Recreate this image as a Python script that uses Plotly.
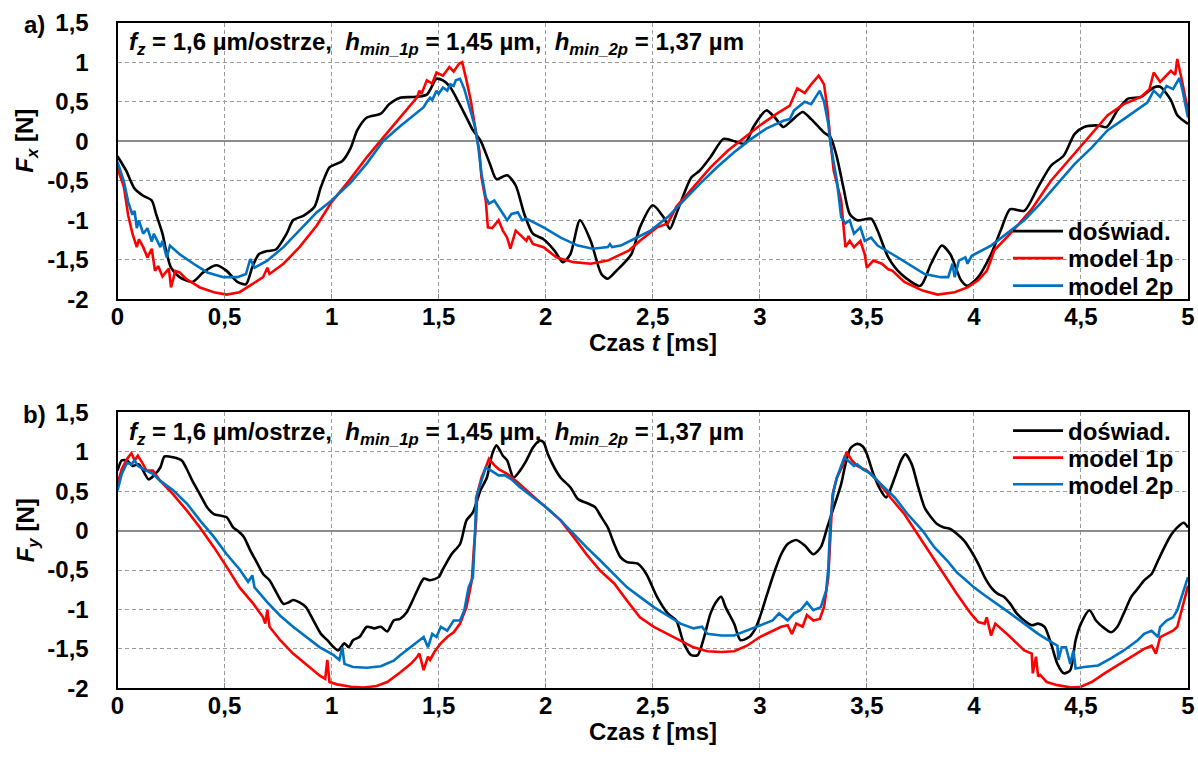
import plotly.graph_objects as go

W, H = 1198, 771
FONT = "Liberation Sans, Arial, sans-serif"

# ---- axis ticks -------------------------------------------------------------
TIME_TICKS = [0, 0.5, 1, 1.5, 2, 2.5, 3, 3.5, 4, 4.5, 5]
TIME_TICK_TEXT = ["0", "0,5", "1", "1,5", "2", "2,5", "3", "3,5", "4", "4,5", "5"]
FORCE_TICKS = [1.5, 1, 0.5, 0, -0.5, -1, -1.5, -2]
FORCE_TICK_TEXT = ["1,5", "1", "0,5", "0", "-0,5", "-1", "-1,5", "-2"]

SERIES_NAMES = ["doświad.", "model 1p", "model 2p"]
SERIES_COLORS = ["#000000", "#ff0000", "#0070c0"]

# ---- F_x [N] vs t [ms] --------------------------------------------------------
FX_EXP = [(0, -0.19), (0.04, -0.37), (0.08, -0.6), (0.12, -0.69), (0.16, -0.75), (0.18, -0.92),
          (0.21, -1.17), (0.23, -1.42), (0.25, -1.6), (0.29, -1.72), (0.35, -1.78), (0.40, -1.66),
          (0.46, -1.57), (0.51, -1.64), (0.56, -1.78), (0.60, -1.81), (0.63, -1.59), (0.66, -1.43),
          (0.70, -1.39), (0.74, -1.37), (0.79, -1.17), (0.82, -1.0), (0.87, -0.94), (0.92, -0.83),
          (0.95, -0.58), (0.99, -0.33), (1.02, -0.29), (1.05, -0.25), (1.09, -0.08), (1.12, 0.14),
          (1.165, 0.30), (1.23, 0.35), (1.27, 0.47), (1.32, 0.55), (1.38, 0.56), (1.445, 0.59),
          (1.49, 0.79), (1.52, 0.77), (1.555, 0.68), (1.59, 0.51), (1.63, 0.30), (1.66, 0.14),
          (1.695, 0.01), (1.74, -0.29), (1.77, -0.48), (1.82, -0.43), (1.86, -0.56), (1.90, -0.92),
          (1.94, -1.17), (1.99, -1.24), (2.04, -1.38), (2.08, -1.53), (2.115, -1.43), (2.16, -1.0),
          (2.21, -1.26), (2.26, -1.68), (2.29, -1.74), (2.33, -1.64), (2.40, -1.43), (2.44, -1.09),
          (2.50, -0.81), (2.55, -0.96), (2.58, -1.11), (2.61, -0.92), (2.68, -0.46), (2.72, -0.37),
          (2.77, -0.2), (2.83, 0.03), (2.87, 0.01), (2.93, -0.03), (2.97, 0.18), (3.03, 0.39),
          (3.07, 0.30), (3.11, 0.18), (3.14, 0.24), (3.20, 0.37), (3.24, 0.28), (3.30, 0.11),
          (3.33, 0.05), (3.36, -0.2), (3.39, -0.58), (3.42, -0.92), (3.455, -1.0), (3.52, -0.98),
          (3.55, -1.13), (3.60, -1.47), (3.66, -1.68), (3.75, -1.83), (3.80, -1.55), (3.85, -1.32),
          (3.89, -1.43), (3.94, -1.76), (3.97, -1.83), (4.02, -1.72), (4.08, -1.43), (4.125, -1.13),
          (4.17, -0.86), (4.235, -0.88), (4.30, -0.58), (4.36, -0.31), (4.42, -0.18), (4.47, 0.09),
          (4.515, 0.18), (4.58, 0.2), (4.62, 0.18), (4.67, 0.39), (4.72, 0.54), (4.78, 0.56),
          (4.84, 0.68), (4.87, 0.69), (4.92, 0.52), (4.95, 0.33), (5.0, 0.22)]

FX_MODEL_1P = [(0, -0.34), (0.03, -0.58), (0.05, -0.94), (0.07, -1.17), (0.09, -1.34), (0.10, -1.24),
               (0.12, -1.34), (0.14, -1.47), (0.16, -1.36), (0.175, -1.64), (0.19, -1.58), (0.21, -1.71),
               (0.24, -1.61), (0.25, -1.85), (0.27, -1.64), (0.29, -1.66), (0.32, -1.74), (0.385, -1.85),
               (0.45, -1.91), (0.51, -1.94), (0.57, -1.91), (0.635, -1.8), (0.68, -1.72), (0.70, -1.6),
               (0.71, -1.68), (0.775, -1.55), (0.85, -1.34), (0.93, -1.07), (1.0, -0.77), (1.09, -0.47),
               (1.165, -0.2), (1.23, 0.01), (1.29, 0.2), (1.35, 0.39), (1.40, 0.56), (1.41, 0.64),
               (1.42, 0.6), (1.445, 0.77), (1.47, 0.73), (1.49, 0.87), (1.52, 0.83), (1.55, 0.94),
               (1.57, 0.88), (1.595, 0.98), (1.61, 1.0), (1.63, 0.77), (1.65, 0.52), (1.67, 0.18),
               (1.69, -0.12), (1.70, -0.46), (1.72, -0.75), (1.73, -1.09), (1.75, -1.1), (1.78, -1.0),
               (1.80, -1.13), (1.82, -1.22), (1.835, -1.36), (1.86, -1.13), (1.88, -1.18), (1.91, -1.26),
               (1.92, -1.2), (1.94, -1.3), (1.99, -1.34), (2.05, -1.47), (2.13, -1.53), (2.21, -1.55),
               (2.29, -1.51), (2.35, -1.43), (2.39, -1.38), (2.44, -1.26), (2.52, -1.09), (2.57, -1.04),
               (2.61, -0.83), (2.69, -0.58), (2.77, -0.33), (2.85, -0.12), (2.93, 0.05), (3.0, 0.2),
               (3.08, 0.35), (3.14, 0.45), (3.175, 0.67), (3.21, 0.61), (3.24, 0.72), (3.275, 0.83),
               (3.30, 0.72), (3.315, 0.43), (3.33, 0.01), (3.345, -0.37), (3.38, -0.75), (3.40, -1.34),
               (3.42, -1.26), (3.44, -1.34), (3.47, -1.26), (3.49, -1.43), (3.50, -1.6), (3.53, -1.51),
               (3.57, -1.55), (3.60, -1.62), (3.62, -1.64), (3.675, -1.78), (3.76, -1.89), (3.83, -1.94),
               (3.91, -1.91), (3.97, -1.85), (4.02, -1.76), (4.06, -1.64), (4.08, -1.5), (4.095, -1.38),
               (4.17, -1.17), (4.27, -0.86), (4.36, -0.5), (4.455, -0.2), (4.55, 0.09), (4.625, 0.33),
               (4.70, 0.47), (4.78, 0.56), (4.82, 0.66), (4.84, 0.87), (4.87, 0.75), (4.92, 0.89),
               (4.94, 0.84), (4.95, 1.04), (4.97, 0.79), (5.0, 0.39)]

FX_MODEL_2P = [(0, -0.26), (0.03, -0.51), (0.05, -0.77), (0.07, -0.93), (0.08, -0.88), (0.09, -1.1),
               (0.10, -1.0), (0.12, -1.17), (0.14, -1.1), (0.16, -1.27), (0.17, -1.17), (0.20, -1.34),
               (0.21, -1.26), (0.23, -1.47), (0.245, -1.32), (0.29, -1.43), (0.355, -1.55), (0.42, -1.66),
               (0.495, -1.72), (0.56, -1.72), (0.60, -1.68), (0.62, -1.49), (0.64, -1.6), (0.70, -1.51),
               (0.775, -1.34), (0.85, -1.13), (0.93, -0.9), (1.0, -0.75), (1.09, -0.52), (1.165, -0.28),
               (1.24, 0.0), (1.32, 0.19), (1.38, 0.32), (1.43, 0.43), (1.445, 0.5), (1.46, 0.55),
               (1.47, 0.52), (1.49, 0.64), (1.50, 0.6), (1.52, 0.68), (1.54, 0.64), (1.555, 0.72),
               (1.57, 0.7), (1.58, 0.77), (1.60, 0.79), (1.62, 0.66), (1.64, 0.47), (1.67, 0.18),
               (1.685, -0.07), (1.70, -0.41), (1.72, -0.71), (1.735, -0.79), (1.76, -0.75), (1.78, -0.83),
               (1.80, -0.92), (1.82, -1.0), (1.84, -0.92), (1.87, -0.9), (1.89, -1.0), (1.91, -0.98),
               (1.99, -1.09), (2.07, -1.22), (2.15, -1.32), (2.22, -1.36), (2.29, -1.34), (2.30, -1.3),
               (2.31, -1.34), (2.35, -1.32), (2.41, -1.24), (2.49, -1.13), (2.57, -0.96), (2.645, -0.75),
               (2.72, -0.54), (2.80, -0.33), (2.88, -0.14), (2.96, 0.03), (3.03, 0.16), (3.11, 0.26),
               (3.14, 0.28), (3.16, 0.39), (3.19, 0.46), (3.21, 0.5), (3.24, 0.47), (3.28, 0.64),
               (3.30, 0.5), (3.32, 0.22), (3.33, -0.03), (3.36, -0.5), (3.38, -0.96), (3.40, -1.04),
               (3.42, -1.0), (3.44, -1.17), (3.47, -1.09), (3.49, -1.26), (3.52, -1.22), (3.55, -1.32),
               (3.62, -1.43), (3.69, -1.55), (3.77, -1.68), (3.845, -1.72), (3.88, -1.72), (3.90, -1.55),
               (3.91, -1.72), (3.93, -1.51), (3.96, -1.47), (3.97, -1.55), (3.99, -1.45), (4.08, -1.32),
               (4.155, -1.17), (4.235, -1.0), (4.31, -0.79), (4.39, -0.54), (4.47, -0.29), (4.55, -0.08),
               (4.625, 0.14), (4.70, 0.28), (4.78, 0.43), (4.81, 0.49), (4.84, 0.64), (4.87, 0.56),
               (4.90, 0.7), (4.93, 0.66), (4.96, 0.8), (4.975, 0.64), (5.0, 0.3)]

# ---- F_y [N] vs t [ms] --------------------------------------------------------
FY_EXP = [(0, 0.76), (0.02, 0.89), (0.045, 0.89), (0.07, 0.82), (0.1, 0.84), (0.145, 0.65), (0.17, 0.7),
          (0.2, 0.8), (0.22, 0.94), (0.26, 0.93), (0.3, 0.89), (0.32, 0.8), (0.35, 0.63), (0.385, 0.46),
          (0.42, 0.29), (0.45, 0.21), (0.48, 0.19), (0.51, 0.17), (0.54, 0.04), (0.56, 0.0), (0.59, -0.08),
          (0.62, -0.25), (0.65, -0.4), (0.68, -0.55), (0.71, -0.63), (0.745, -0.8), (0.775, -0.93),
          (0.80, -0.91), (0.82, -0.88), (0.85, -0.91), (0.88, -0.97), (0.915, -1.14), (0.95, -1.31),
          (0.98, -1.39), (1.01, -1.48), (1.03, -1.52), (1.06, -1.43), (1.08, -1.48), (1.10, -1.39),
          (1.13, -1.35), (1.165, -1.22), (1.20, -1.24), (1.23, -1.22), (1.26, -1.28), (1.29, -1.14),
          (1.32, -1.12), (1.35, -1.04), (1.40, -0.76), (1.43, -0.61), (1.46, -0.63), (1.50, -0.59),
          (1.52, -0.49), (1.56, -0.3), (1.60, -0.17), (1.63, 0.13), (1.66, 0.23), (1.695, 0.51),
          (1.725, 0.67), (1.75, 0.97), (1.77, 1.08), (1.80, 0.95), (1.82, 0.89), (1.85, 0.67), (1.88, 0.76),
          (1.91, 0.89), (1.94, 1.05), (1.97, 1.14), (1.99, 1.12), (2.01, 0.97), (2.04, 0.8), (2.07, 0.67),
          (2.115, 0.55), (2.15, 0.4), (2.20, 0.34), (2.23, 0.3), (2.26, 0.17), (2.29, 0.04), (2.32, -0.17),
          (2.35, -0.34), (2.38, -0.4), (2.43, -0.42), (2.47, -0.55), (2.52, -0.84), (2.57, -1.05),
          (2.61, -1.14), (2.645, -1.43), (2.68, -1.58), (2.71, -1.58), (2.74, -1.35), (2.77, -1.05),
          (2.80, -0.89), (2.82, -0.84), (2.84, -0.97), (2.88, -1.18), (2.91, -1.39), (2.95, -1.35),
          (2.98, -1.24), (3.0, -1.1), (3.035, -0.8), (3.07, -0.51), (3.10, -0.3), (3.13, -0.17),
          (3.17, -0.12), (3.21, -0.19), (3.25, -0.3), (3.285, -0.21), (3.315, 0.04), (3.345, 0.29),
          (3.38, 0.59), (3.40, 0.84), (3.425, 1.05), (3.455, 1.1), (3.48, 1.07), (3.50, 0.97), (3.53, 0.72),
          (3.565, 0.51), (3.59, 0.42), (3.63, 0.67), (3.66, 0.89), (3.68, 0.97), (3.71, 0.84), (3.74, 0.55),
          (3.77, 0.29), (3.80, 0.17), (3.83, 0.08), (3.86, 0.04), (3.89, 0.02), (3.92, -0.04),
          (3.955, -0.13), (3.985, -0.25), (4.02, -0.42), (4.05, -0.59), (4.08, -0.72), (4.11, -0.8),
          (4.14, -0.84), (4.17, -0.93), (4.20, -1.05), (4.235, -1.14), (4.27, -1.2), (4.30, -1.18),
          (4.33, -1.22), (4.36, -1.43), (4.39, -1.69), (4.42, -1.81), (4.45, -1.77), (4.475, -1.39),
          (4.50, -1.18), (4.54, -1.01), (4.57, -1.14), (4.61, -1.24), (4.64, -1.29), (4.67, -1.22),
          (4.70, -1.05), (4.735, -0.84), (4.77, -0.72), (4.795, -0.63), (4.83, -0.55), (4.86, -0.38),
          (4.89, -0.21), (4.92, -0.06), (4.95, 0.04), (4.98, 0.1), (5.0, 0.04)]

FY_MODEL_1P = [(0, 0.59), (0.02, 0.78), (0.045, 0.91), (0.065, 0.98), (0.08, 0.89), (0.095, 0.95),
               (0.12, 0.84), (0.135, 0.76), (0.165, 0.76), (0.2, 0.63), (0.26, 0.46), (0.325, 0.25),
               (0.385, 0.04), (0.45, -0.21), (0.51, -0.46), (0.57, -0.72), (0.635, -0.93), (0.68, -1.1),
               (0.69, -1.18), (0.70, -1.01), (0.71, -1.22), (0.76, -1.39), (0.82, -1.56), (0.885, -1.71),
               (0.945, -1.84), (0.97, -1.88), (0.98, -1.64), (0.99, -1.92), (1.025, -1.95), (1.09, -1.98),
               (1.15, -1.99), (1.21, -1.97), (1.26, -1.92), (1.32, -1.8), (1.37, -1.69), (1.40, -1.6),
               (1.41, -1.56), (1.43, -1.77), (1.45, -1.6), (1.46, -1.64), (1.48, -1.54), (1.51, -1.43),
               (1.54, -1.35), (1.57, -1.29), (1.60, -1.18), (1.63, -0.97), (1.655, -0.63), (1.665, -0.21),
               (1.675, 0.13), (1.68, 0.46), (1.70, 0.67), (1.72, 0.8), (1.735, 0.91), (1.76, 0.83),
               (1.78, 0.78), (1.82, 0.72), (1.87, 0.61), (1.94, 0.44), (2.005, 0.29), (2.07, 0.13),
               (2.13, -0.08), (2.19, -0.3), (2.255, -0.51), (2.32, -0.67), (2.38, -0.89), (2.44, -1.1),
               (2.505, -1.22), (2.57, -1.31), (2.63, -1.39), (2.69, -1.48), (2.755, -1.53), (2.82, -1.54),
               (2.88, -1.53), (2.94, -1.46), (3.0, -1.35), (3.06, -1.27), (3.10, -1.22), (3.13, -1.2),
               (3.15, -1.31), (3.17, -1.18), (3.20, -1.22), (3.22, -1.07), (3.25, -1.14), (3.28, -1.12),
               (3.30, -0.97), (3.32, -0.59), (3.33, 0.0), (3.34, 0.46), (3.36, 0.67), (3.39, 0.84),
               (3.405, 1.0), (3.43, 0.89), (3.455, 0.82), (3.50, 0.76), (3.55, 0.63), (3.61, 0.42),
               (3.675, 0.21), (3.735, -0.04), (3.80, -0.3), (3.86, -0.55), (3.92, -0.8), (3.985, -1.05),
               (4.02, -1.16), (4.05, -1.18), (4.06, -1.1), (4.08, -1.33), (4.10, -1.18), (4.17, -1.35),
               (4.235, -1.52), (4.27, -1.56), (4.275, -1.81), (4.29, -1.6), (4.30, -1.85), (4.31, -1.83),
               (4.34, -1.92), (4.39, -1.96), (4.455, -1.99), (4.50, -1.98), (4.55, -1.92), (4.61, -1.81),
               (4.67, -1.71), (4.735, -1.6), (4.795, -1.5), (4.83, -1.46), (4.85, -1.56), (4.87, -1.35),
               (4.90, -1.31), (4.93, -1.27), (4.95, -1.22), (4.975, -0.97), (5.0, -0.7)]

FY_MODEL_2P = [(0, 0.51), (0.02, 0.72), (0.045, 0.86), (0.065, 0.84), (0.08, 0.89), (0.095, 0.82),
               (0.12, 0.78), (0.165, 0.72), (0.2, 0.63), (0.26, 0.51), (0.325, 0.34), (0.385, 0.13),
               (0.45, -0.08), (0.51, -0.3), (0.57, -0.49), (0.61, -0.65), (0.63, -0.57), (0.64, -0.72),
               (0.70, -0.91), (0.76, -1.08), (0.82, -1.22), (0.885, -1.35), (0.945, -1.48), (1.01, -1.58),
               (1.036, -1.64), (1.05, -1.48), (1.06, -1.69), (1.10, -1.73), (1.165, -1.74), (1.23, -1.72),
               (1.29, -1.65), (1.32, -1.58), (1.37, -1.48), (1.41, -1.39), (1.43, -1.35), (1.45, -1.48),
               (1.47, -1.31), (1.49, -1.35), (1.51, -1.22), (1.54, -1.27), (1.57, -1.14), (1.60, -1.14),
               (1.62, -1.01), (1.64, -0.72), (1.66, -0.59), (1.67, -0.04), (1.675, 0.42), (1.70, 0.63),
               (1.72, 0.8), (1.745, 0.76), (1.78, 0.7), (1.81, 0.7), (1.84, 0.65), (1.88, 0.55), (1.94, 0.42),
               (2.005, 0.29), (2.07, 0.13), (2.13, -0.04), (2.19, -0.21), (2.255, -0.38), (2.32, -0.55),
               (2.38, -0.72), (2.44, -0.84), (2.505, -0.97), (2.57, -1.08), (2.63, -1.18), (2.69, -1.24),
               (2.73, -1.22), (2.755, -1.31), (2.82, -1.33), (2.88, -1.33), (2.94, -1.27), (3.0, -1.2),
               (3.06, -1.14), (3.09, -1.05), (3.13, -1.14), (3.16, -1.05), (3.19, -1.01), (3.22, -0.91),
               (3.25, -1.01), (3.285, -0.97), (3.31, -0.76), (3.32, -0.47), (3.33, 0.13), (3.345, 0.51),
               (3.36, 0.67), (3.395, 0.93), (3.41, 0.89), (3.44, 0.82), (3.455, 0.84), (3.48, 0.78),
               (3.52, 0.72), (3.565, 0.59), (3.63, 0.42), (3.69, 0.21), (3.76, 0.0), (3.815, -0.21),
               (3.875, -0.38), (3.90, -0.47), (3.92, -0.53), (3.955, -0.61), (4.0, -0.72), (4.05, -0.82),
               (4.11, -0.93), (4.17, -1.05), (4.235, -1.18), (4.30, -1.31), (4.36, -1.41), (4.39, -1.46),
               (4.395, -1.64), (4.41, -1.48), (4.43, -1.48), (4.45, -1.69), (4.465, -1.52), (4.475, -1.75),
               (4.515, -1.73), (4.58, -1.71), (4.64, -1.62), (4.70, -1.52), (4.765, -1.39), (4.795, -1.31),
               (4.83, -1.27), (4.86, -1.35), (4.87, -1.22), (4.90, -1.14), (4.93, -1.1), (4.95, -1.01),
               (4.975, -0.8), (5.0, -0.59)]

PARAMS_TEXT = ("<i>f</i><sub><i>z</i></sub> = 1,6 µm/ostrze,&nbsp; "
               "<i>h</i><sub><i>min_1p</i></sub> = 1,45 µm,&nbsp; "
               "<i>h</i><sub><i>min_2p</i></sub> = 1,37 µm")


# ---- page geometry (pixels) -------------------------------------------------
def px_x(x):
    return x / W


def px_y(y):
    return 1 - y / H


PLOT_LEFT, PLOT_RIGHT = 117.5, 1188.0
PANELS = [
    dict(top=22.7, bottom=299.3, data=[FX_EXP, FX_MODEL_1P, FX_MODEL_2P], letter="a)",
         ylabel="<i>F</i><sub><i>x</i></sub> [N]", legend_y=[231.5, 258.5, 286.0]),
    dict(top=412.3, bottom=688.3, data=[FY_EXP, FY_MODEL_1P, FY_MODEL_2P], letter="b)",
         ylabel="<i>F</i><sub><i>y</i></sub> [N]", legend_y=[431.0, 458.0, 484.7]),
]

fig = go.Figure()
layout = dict(
    width=W, height=H, autosize=False,
    margin=dict(l=0, r=0, t=0, b=0),
    paper_bgcolor="white", plot_bgcolor="white",
    font=dict(family=FONT, size=24, color="black", weight="bold"),
    showlegend=True,
    annotations=[],
)

legend_index = 1
for p_i, panel in enumerate(PANELS):
    n = p_i + 1
    xa = "x" if n == 1 else f"x{n}"
    ya = "y" if n == 1 else f"y{n}"
    for s_i, series in enumerate(panel["data"]):
        # one legend box per series so each entry can sit on its own row
        legend_index += 1
        lname = f"legend{legend_index}"
        fig.add_trace(go.Scatter(
            x=[pt[0] for pt in series], y=[pt[1] for pt in series],
            mode="lines", name=SERIES_NAMES[s_i],
            line=dict(color=SERIES_COLORS[s_i], width=2.6,
                      shape="spline" if s_i == 0 else "linear", smoothing=0.7),
            xaxis=xa, yaxis=ya, legend=lname, showlegend=True,
        ))
        layout[lname] = dict(
            x=px_x(1008), y=px_y(panel["legend_y"][s_i]), xanchor="left", yanchor="middle",
            bgcolor="rgba(0,0,0,0)", borderwidth=0, itemwidth=50,
            font=dict(family=FONT, size=24, color="black", weight="bold"),
            tracegroupgap=0, visible=True,
        )

    common_axis = dict(
        showline=True, linecolor="black", linewidth=2, mirror=True,
        showgrid=True, gridcolor="#9a9a9a", gridwidth=1, griddash="4px,3px",
        automargin=False, fixedrange=True,
        tickfont=dict(family=FONT, size=24, color="black", weight="bold"),
    )
    layout["xaxis" if n == 1 else f"xaxis{n}"] = dict(
        common_axis, domain=[px_x(PLOT_LEFT), px_x(PLOT_RIGHT)], range=[0, 5],
        anchor=ya, tickvals=TIME_TICKS, ticktext=TIME_TICK_TEXT,
        ticks="inside", ticklen=5, tickcolor="#888888", tickwidth=1,
        ticklabelstandoff=-5, zeroline=False,
    )
    layout["yaxis" if n == 1 else f"yaxis{n}"] = dict(
        common_axis, domain=[px_y(panel["bottom"]), px_y(panel["top"])], range=[-2, 1.5],
        anchor=xa, tickvals=FORCE_TICKS, ticktext=FORCE_TICK_TEXT,
        ticks="", ticklabelstandoff=22,
        zeroline=True, zerolinecolor="#8c8c8c", zerolinewidth=1.5,
    )

    base_y = panel["top"]
    layout["annotations"] += [
        dict(text=panel["letter"], x=px_x(34), y=px_y(base_y + 2), xref="paper", yref="paper",
             showarrow=False, xanchor="center", yanchor="middle",
             font=dict(family=FONT, size=24, weight="bold")),
        dict(text=PARAMS_TEXT, x=px_x(127), y=px_y(base_y + 21), xref="paper", yref="paper",
             showarrow=False, xanchor="left", yanchor="middle",
             font=dict(family=FONT, size=24, weight="bold")),
        dict(text=panel["ylabel"], x=px_x(27), y=px_y(base_y + 118), xref="paper", yref="paper",
             showarrow=False, xanchor="center", yanchor="middle", textangle=-90,
             font=dict(family=FONT, size=24, weight="bold")),
        dict(text="Czas <i>t</i> [ms]", x=px_x(653), y=px_y(panel["bottom"] + 43), xref="paper",
             yref="paper", showarrow=False, xanchor="center", yanchor="middle",
             font=dict(family=FONT, size=24, weight="bold")),
    ]

fig.update_layout(**layout)
fig.write_html("out.html")
